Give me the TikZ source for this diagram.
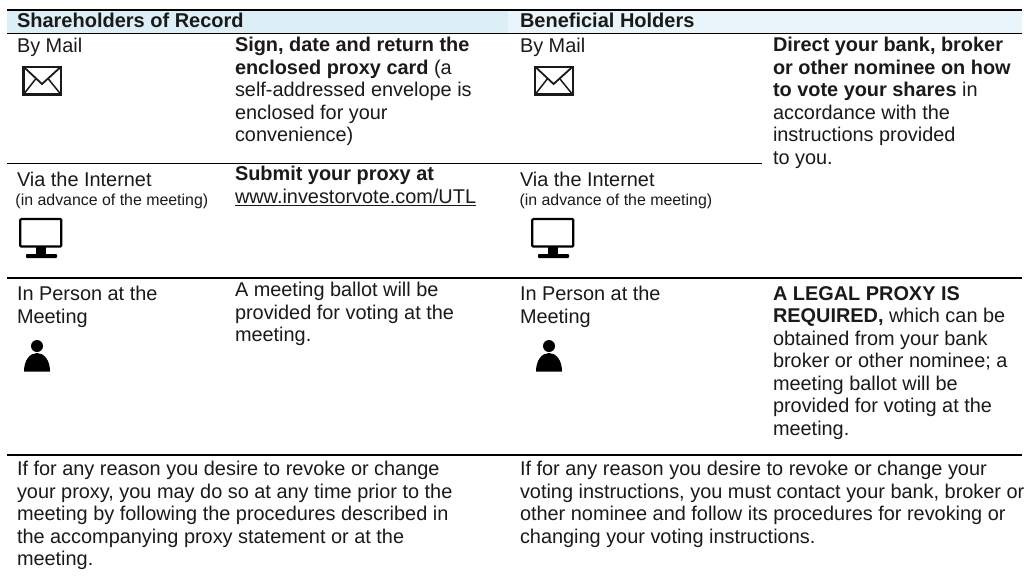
\documentclass[tikz,border=0pt]{standalone}
\usepackage{fontspec}
\setmainfont{Liberation Sans}
\definecolor{bandA}{HTML}{DCEFF7}
\definecolor{bandB}{HTML}{E9F5FB}
\definecolor{inkc}{HTML}{1A1A1A}
\tikzset{
  x=1pt,y=-1pt,
  txt/.style={anchor=north west,inner sep=0pt,outer sep=0pt,align=left,text=inkc,
    font=\fontsize{19.9}{22.5}\selectfont,execute at begin node={\rule{0pt}{17pt}}},
  sml/.style={anchor=north west,inner sep=0pt,outer sep=0pt,align=left,text=inkc,
    font=\fontsize{15.9}{15}\selectfont,execute at begin node={\rule{0pt}{17pt}}},
  hd/.style={txt,font=\fontsize{20}{22.5}\selectfont\bfseries},
  rulel/.style={line width=1.7pt,black},
  envelopeicon/.pic={
    \draw[line width=2.2pt,black!90] (23.5,66.7) rectangle (61,94.5);
    \draw[line width=1.8pt,black!90] (23.5,66.7) -- (42,84) -- (61,66.7);
    \draw[line width=1.5pt,black!90] (23.5,94.5) -- (36,78.5);
    \draw[line width=1.5pt,black!90] (61,94.5) -- (48,78.5);
  },
  monitoricon/.pic={
    \draw[line width=2.2pt,black,rounded corners=1pt] (20.3,219) rectangle (61.3,246.5);
    \fill[black] (36,247) rectangle (46,254.5);
    \fill[black,rounded corners=0.8pt] (26,254) rectangle (57,258);
  },
  personicon/.pic={
    \fill[black] (37,346) circle (6);
    \fill[black] (24,371.5) .. controls (24,360) and (30,353) .. (37,353)
       .. controls (44,353) and (50,360) .. (50,371.5) -- cycle;
  }
}
\begin{document}
\begin{tikzpicture}
\useasboundingbox (0,0) rectangle (1027,579);
\fill[white] (0,0) rectangle (1027,579);
\fill[bandA] (7,10) rectangle (508,33);
\fill[bandB] (508,10) rectangle (1022,33);
\coordinate (a1) at (7,10);   \coordinate (a2) at (1022,10);
\coordinate (b1) at (7,33.5); \coordinate (b2) at (1022,33.5);
\coordinate (c1) at (7,163.5);\coordinate (c2) at (762,163.5);
\coordinate (d1) at (7,278);  \coordinate (d2) at (1022,278);
\coordinate (e1) at (7,455);  \coordinate (e2) at (1022,455);
\draw[rulel] (a1) -- (a2);
\draw[rulel] (b1) -- (b2);
\draw[rulel] (c1) -- (c2);
\draw[rulel] (d1) -- (d2);
\draw[rulel] (e1) -- (e2);

\node[hd] (h1) at (17,10) {Shareholders of Record};
\node[hd] (h2) at (520,10) {Beneficial Holders};

\node[txt] (m1) at (17,35) {By Mail};
\node[txt] (m2) at (235,37.2) {\textbf{Sign, date and return the}\\\textbf{enclosed proxy card} (a\\self-addressed envelope is\\enclosed for your\\convenience)};
\node[txt] (m3) at (520,35) {By Mail};
\node[txt] (m4) at (773,37.2) {\textbf{Direct your bank, broker}\\\textbf{or other nominee on how}\\\textbf{to vote your shares} in\\accordance with the\\instructions provided\\to you.};

\node[txt] (i1) at (17,169) {Via the Internet};
\node[sml] (i1b) at (15.5,188) {(in advance of the meeting)};
\node[txt] (i2) at (235,166.5) {\textbf{Submit your proxy at}\\\underline{www.investorvote.com/UTL}};
\node[txt] (i3) at (520,169) {Via the Internet};
\node[sml] (i3b) at (519.5,188) {(in advance of the meeting)};

\node[txt] (p1) at (17,286.2) {In Person at the\\Meeting};
\node[txt] (p2) at (235,282.2) {A meeting ballot will be\\provided for voting at the\\meeting.};
\node[txt] (p3) at (520,286.2) {In Person at the\\Meeting};
\node[txt] (p4) at (773,286.2) {\textbf{A LEGAL PROXY IS}\\\textbf{REQUIRED,} which can be\\obtained from your bank\\broker or other nominee; a\\meeting ballot will be\\provided for voting at the\\meeting.};

\node[txt] (r1) at (17,461.2) {If for any reason you desire to revoke or change\\your proxy, you may do so at any time prior to the\\meeting by following the procedures described in\\the accompanying proxy statement or at the\\meeting.};
\node[txt] (r2) at (520,461.2) {If for any reason you desire to revoke or change your\\voting instructions, you must contact your bank, broker or\\other nominee and follow its procedures for revoking or\\changing your voting instructions.};

\pic at (0,0) {envelopeicon};
\pic at (511.6,0) {envelopeicon};
\pic at (0,0) {monitoricon};
\pic at (512,0) {monitoricon};
\pic at (0,0) {personicon};
\pic at (512,0) {personicon};
\end{tikzpicture}
\end{document}
